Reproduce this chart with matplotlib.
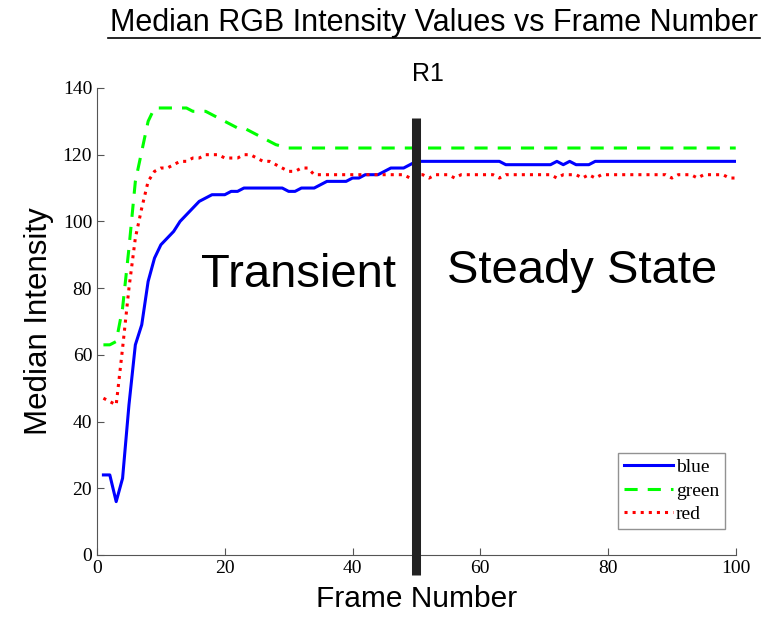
import matplotlib
matplotlib.use('Agg')
import matplotlib.pyplot as plt
import numpy as np

frames = np.arange(1, 101)

# медианные значения по кадрам (1..100)
blue = [24, 24, 16, 23, 45, 63, 69, 82, 89, 93,
        95, 97, 100, 102, 104, 106, 107, 108, 108, 108,
        109, 109, 110, 110, 110, 110, 110, 110, 110, 109,
        109, 110, 110, 110, 111, 112, 112, 112, 112, 113,
        113, 114, 114, 114, 115, 116, 116, 116, 117, 118] + \
       [118] * 13 + [117] * 8 + [118, 117, 118, 117, 117, 117] + [118] * 23

green = [63, 63, 64, 74, 92, 112, 121, 130, 134, 134,
         134, 134, 134, 134, 133, 133, 133, 132, 131, 130,
         129, 128, 128, 127, 126, 125, 124, 123, 122.5, 122] + [122] * 70

red = [47, 46, 45, 62, 80, 95, 104, 112, 115, 116,
       116, 117, 118, 118, 119, 119, 120, 120, 120, 119,
       119, 119, 120, 120, 119, 118, 118, 117, 116, 115,
       115, 116, 116, 114, 114, 114, 114, 114, 114, 114,
       114, 114, 114, 114, 114, 114, 114, 114, 113, 114,
       114, 113, 114, 114, 114, 113, 114, 114, 114, 114,
       114, 114, 113, 114, 114, 114, 114, 114, 114, 114,
       114, 113, 114, 114, 114, 113, 114, 113, 114, 114,
       114, 114, 114, 114, 114, 114, 114, 114, 114, 113,
       114, 114, 114, 113, 114, 114, 114, 114, 113, 113]

boundary = 50

fig = plt.figure(figsize=(7.64, 6.19), dpi=100)
ax = fig.add_axes([0.127, 0.1034, 0.836, 0.7545])

ax.plot(frames, blue, '-', color='#0000ff', lw=2.2, label='blue')
ax.plot(frames, green, '--', color='#00ff00', lw=2.2, dashes=(4.3, 3.3), label='green')
ax.plot(frames, red, ':', color='#ff0000', lw=2.2, label='red')

# граница между переходным и установившимся режимом
ax.plot([boundary, boundary], [-6, 131], color='#222222', lw=6.5, clip_on=False,
        solid_capstyle='butt', zorder=5)

ax.set_xlim(0, 100)
ax.set_ylim(0, 140)
ax.set_xticks([0, 20, 40, 60, 80, 100])
ax.set_yticks(np.arange(0, 141, 20))
for s in ['top', 'right']:
    ax.spines[s].set_visible(False)
for s in ['left', 'bottom']:
    ax.spines[s].set_color('#555555')
ax.tick_params(direction='in', length=5, color='#555555', labelsize=14)
for lbl in ax.get_xticklabels() + ax.get_yticklabels():
    lbl.set_fontfamily('Liberation Serif')

ax.set_xlabel('Frame Number', fontsize=21.5, family='Liberation Sans', labelpad=6)
ax.set_ylabel('Median Intensity', fontsize=22.5, family='Liberation Sans', labelpad=6)

leg = ax.legend(loc='lower right', bbox_to_anchor=(0.998, 0.035),
                prop={'family': 'Liberation Serif', 'size': 14},
                handlelength=2.5, handletextpad=0.15, borderpad=0.3,
                labelspacing=0.3, fancybox=False, edgecolor='#777777')
leg.get_frame().set_linewidth(1.0)

ax.text(31.5, 84, 'Transient', fontsize=34, family='Liberation Sans',
        ha='center', va='center')
ax.text(76, 85, 'Steady State', fontsize=34, family='Liberation Sans',
        ha='center', va='center')
ax.text(51.8, 144.2, 'R1', fontsize=18, family='Liberation Sans',
        ha='center', va='center', clip_on=False)

fig.text(0.568, 0.963, 'Median RGB Intensity Values vs Frame Number',
         fontsize=22, family='Liberation Sans', ha='center', va='center')
# подчеркивание заголовка
fig.add_artist(plt.Line2D([0.141, 0.995], [0.938, 0.938], color='black', lw=1.2))

fig.savefig('out.png', dpi=100)
